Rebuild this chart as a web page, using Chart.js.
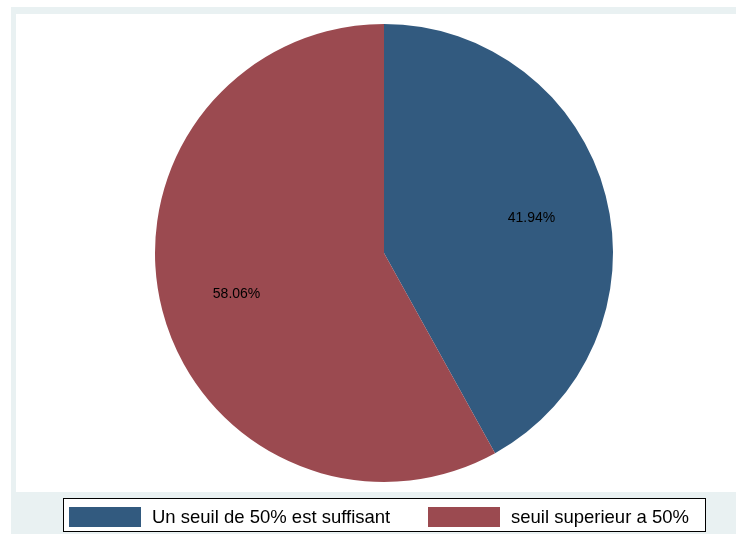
<!DOCTYPE html>
<html>
<head>
<meta charset="utf-8">
<script src="https://cdn.jsdelivr.net/npm/chart.js@4"></script>
<style>
    html, body { margin: 0; padding: 0; background: #ffffff; }
    #wrap { width: 736px; height: 534px; position: relative; }
</style>
</head>
<body>
<div id="wrap"><canvas id="myChart" width="736" height="534"></canvas></div>
<script>
// data
const categories = ['Un seuil de 50% est suffisant', 'seuil superieur a 50%'];
const shares = [41.94, 58.06];
const sliceColors = ['#325a7f', '#9b4a50'];

// background panels of the stata-like graph region + custom legend + slice labels
const stataLook = {
    id: 'stataLook',
    beforeDraw(chart) {
        const ctx = chart.ctx;
        ctx.save();
        ctx.fillStyle = '#ffffff';
        ctx.fillRect(0, 0, chart.width, chart.height);
        ctx.fillStyle = '#e9f1f2';
        ctx.fillRect(11, 7, chart.width - 11, chart.height - 7);
        ctx.fillStyle = '#ffffff';
        ctx.fillRect(16, 14, chart.width - 16, 478);
        ctx.restore();
    },
    afterDraw(chart) {
        const ctx = chart.ctx;
        const meta = chart.getDatasetMeta(0);
        const total = shares.reduce((a, b) => a + b, 0);
        ctx.save();
        // percent labels inside slices
        ctx.font = '14px "Liberation Sans", Arial, sans-serif';
        ctx.fillStyle = '#000000';
        ctx.textAlign = 'center';
        ctx.textBaseline = 'middle';
        meta.data.forEach((arc, i) => {
            const p = arc.getProps(['x', 'y', 'startAngle', 'endAngle', 'outerRadius'], true);
            const mid = (p.startAngle + p.endAngle) / 2;
            const r = p.outerRadius * 0.665;
            const pct = (shares[i] / total * 100).toFixed(2) + '%';
            ctx.fillText(pct, p.x + Math.cos(mid) * r, p.y + Math.sin(mid) * r + 3);
        });

        // legend box
        ctx.fillStyle = '#ffffff';
        ctx.fillRect(63, 498, 643, 34);
        ctx.strokeStyle = '#000000';
        ctx.lineWidth = 1;
        ctx.strokeRect(63.5, 498.5, 642, 33);
        const keyX = [69, 428];
        ctx.font = '18.5px "Liberation Sans", Arial, sans-serif';
        ctx.textAlign = 'left';
        ctx.textBaseline = 'alphabetic';
        categories.forEach((c, i) => {
            ctx.fillStyle = sliceColors[i];
            ctx.fillRect(keyX[i], 507, 72, 20);
            ctx.fillStyle = '#000000';
            ctx.fillText(c, keyX[i] + 83, 523);
        });
        ctx.restore();
    }
};

const ctx = document.getElementById('myChart').getContext('2d');
const myChart = new Chart(ctx, {
    type: 'pie',
    data: {
        labels: categories,
        datasets: [{
            data: shares,
            backgroundColor: sliceColors,
            borderWidth: 0
        }]
    },
    options: {
        responsive: false,
        animation: false,
        layout: { padding: { left: 155, right: 123, top: 24, bottom: 52 } },
        plugins: {
            legend: { display: false },
            tooltip: { enabled: false }
        }
    },
    plugins: [stataLook]
});
</script>
</body>
</html>
